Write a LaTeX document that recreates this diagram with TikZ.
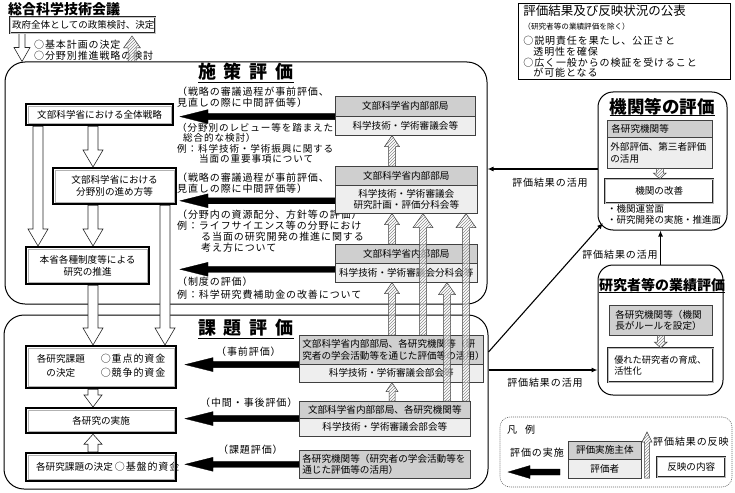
\documentclass[tikz,border=0pt]{standalone}
\usepackage{fontspec}
\newfontfamily\jp{Noto Sans CJK JP}
\newfontfamily\jpw{Noto Sans CJK JP}[LetterSpace=9]
\usetikzlibrary{calc,patterns,arrows.meta}
\pgfdeclarelayer{bg}
\pgfsetlayers{bg,main}
% block arrow: [style]{from}{to}{shaft half width}{head half width}{head length}
\newcommand{\barrow}[6][]{%
  \draw[#1] let \p1=(#2), \p2=(#3), \p3=($(#3)!#6pt!(#2)$) in
    ($(\p1)!#4pt!90:(\p2)$) -- ($(\p3)!#4pt!90:(\p2)$) -- ($(\p3)!#5pt!90:(\p2)$)
    -- (\p2) -- ($(\p3)!#5pt!-90:(\p2)$) -- ($(\p3)!#4pt!-90:(\p2)$)
    -- ($(\p1)!#4pt!-90:(\p2)$) -- cycle;}
\newcommand{\innerframe}[1]{\draw[gray!60,line width=0.6pt] ([shift={(3.3pt,-3.3pt)}]#1.north west) rectangle ([shift={(-3.3pt,3.3pt)}]#1.south east);}
\newsavebox{\ulsave}
\newcommand{\ulbox}[2]{\sbox{\ulsave}{#2}\rlap{\rule[#1]{\wd\ulsave}{1.1pt}}\usebox{\ulsave}}
\begin{document}
\begin{tikzpicture}[x=1pt,y=-1pt,
  jb/.style={inner sep=0pt, anchor=north west, align=center, font=\jp\fontsize{9.6}{11.5}\selectfont},
  dk/.style={jb, draw=black!75, fill=gray!38, line width=0.6pt},
  lite/.style={jb, draw=black!75, fill=gray!13, line width=0.6pt},
  strat/.style={jb, draw=black, line width=2.2pt, fill=white},
  dbl/.style={jb, draw=black!85, line width=0.5pt, double=gray!55, double distance=1.1pt, fill=white},
  govb/.style={jb, draw=black!85, line width=0.5pt, double=gray!45, double distance=0.8pt, fill=white},
  panel/.style={draw=black, line width=1pt, rounded corners=20pt, inner sep=0pt},
  spanel/.style={draw=black, line width=1pt, rounded corners=15pt, inner sep=0pt},
  ann/.style={anchor=north west, inner sep=0pt, align=left, font=\jpw\fontsize{10}{10.5}\selectfont},
  lbl/.style={inner sep=0pt, font=\jpw\fontsize{10}{12}\selectfont},
  ttl/.style={inner sep=0pt, font=\jp\bfseries\fontsize{18}{20}\selectfont},
  thinarr/.style={-{Latex[length=6pt,width=5pt]}, line width=1.1pt},
  blk/.style={fill=black, draw=black, line width=0.3pt},
  hol/.style={fill=white, draw=black!85, line width=0.6pt},
  hat/.style={draw=black!75, line width=0.5pt, preaction={fill=white, fill opacity=0.6}, pattern=north east lines, pattern color=gray!90}
]
\useasboundingbox (0,0) rectangle (735,492);
\begin{pgfonlayer}{bg}
\fill[white] (0,0) rectangle (735,492);
\node[panel, minimum width=482pt, minimum height=242pt] (P1) at (246,183) {};
\node[panel, minimum width=484pt, minimum height=174pt] (P2) at (246,402) {};
\node[spanel, minimum width=129pt, minimum height=138pt] (K) at (662.5,161) {};
\node[spanel, minimum width=125pt, minimum height=130pt] (R) at (660.5,330) {};
\node[draw=black!60, line width=0.6pt, dash pattern=on 1pt off 1pt, rounded corners=10pt, inner sep=0pt, minimum width=232pt, minimum height=70pt] (L) at (616,452) {};
\end{pgfonlayer}

% coordinates
\coordinate (g0) at (22,0);
\coordinate (g1) at (132,36);
\coordinate (hx1) at (38,0);
\coordinate (hx2) at (93,0);
\coordinate (hx3) at (165,0);
\coordinate (tipx) at (180,0);
\coordinate (tipk) at (185,0);
\coordinate (hxA) at (392,0);
\coordinate (hxB) at (423,0);
\coordinate (hxC) at (447,0);
\coordinate (hxD) at (466,0);
\coordinate (ya) at (0,169);
\coordinate (yb) at (0,352);
\coordinate (yc) at (0,370);
\coordinate (kc) at (603,223);
\coordinate (lgA) at (560,472);
\coordinate (lgB) at (508,472);
\coordinate (lgC) at (647,478);
\coordinate (lgD) at (647,432);

% top
\node[jb, font=\jp\bfseries\fontsize{14}{16}\selectfont, anchor=west] (council) at (8,9) {総合科学技術会議};
\node[govb, align=left, text width=141pt, inner xsep=2pt, minimum height=16pt, font=\jp\fontsize{9.5}{11}\selectfont] (gov) at (10,17) {政府全体としての政策検討、決定};
\node[ann] (govtxt) at (34,40) {○基本計画の決定\\○分野別推進戦略の検討};

\node[draw=black, line width=0.8pt, anchor=north west, inner xsep=5pt, inner ysep=2pt, text width=202pt, align=left, font=\jpw\fontsize{10}{10.5}\selectfont] (pub) at (518,3) {{\jp\fontsize{12.5}{10.5}\selectfont 評価結果及び反映状況の公表}\\[3.5pt]{\jp\fontsize{7.6}{10.5}\selectfont （研究者等の業績評価を除く）}\\[4.5pt]○説明責任を果たし、公正さと\\\hspace*{10pt}透明性を確保\\[0.5pt]○広く一般からの検証を受けること\\\hspace*{10pt}が可能となる};

% titles
\node[ttl] (t1) at (246,73) {\ulbox{-4pt}{施\hspace{8pt}策\hspace{8pt}評\hspace{8pt}価}};
\node[ttl] (t2) at (246,329) {\ulbox{-4pt}{課\hspace{8pt}題\hspace{8pt}評\hspace{8pt}価}};
\node[ttl, font=\jp\bfseries\fontsize{17.5}{20}\selectfont] (t3) at (662,107) {\ulbox{-3pt}{機関等の評価}};
\node[ttl, font=\jp\bfseries\fontsize{14}{16}\selectfont, anchor=west] (t4) at (599,286) {\ulbox{-2.5pt}{研究者等の業績評価}};

% annotations
\node[ann] (a1) at (177,87) {（戦略の審議過程が事前評価、\\見直しの際に中間評価等）};
\node[ann, font=\jpw\fontsize{9.6}{10.3}\selectfont] (a2) at (177,123) {（分野別のレビュー等を踏まえた\\\hspace*{6pt}総合的な検討）\\例：科学技術・学術振興に関する\\\hspace*{22pt}当面の重要事項について};
\node[ann] (a3) at (177,173) {（戦略の審議過程が事前評価、\\見直しの際に中間評価等）};
\node[ann, font=\jpw\fontsize{10}{11}\selectfont] (a4) at (177,210) {（分野内の資源配分、方針等の評価）\\例：ライフサイエンス等の分野におけ\\\hspace*{24pt}る当面の研究開発の推進に関する\\\hspace*{24pt}考え方について};
\node[ann, font=\jpw\fontsize{10}{12.5}\selectfont] (a5) at (177,277) {（制度の評価）\\例：科学研究費補助金の改善について};

\node[lbl, anchor=west] (e1) at (216,352) {（事前評価）};
\node[lbl, anchor=west] (e2) at (200,403) {（中間・事後評価）};
\node[lbl, anchor=west] (e3) at (218,450) {（課題評価）};

\node[lbl] (u1) at (550,183) {評価結果の活用};
\node[lbl] (u2) at (620,255) {評価結果の活用};
\node[lbl] (u3) at (545,383) {評価結果の活用};

\node[lbl, anchor=west] (lg1) at (507,430) {凡\hspace{8pt}例};
\node[lbl, anchor=west] (lg2) at (510,453) {評価の実施};
\node[lbl, anchor=west] (lg3) at (653,442) {評価結果の反映};

% strategy boxes
\node[strat, minimum width=147pt, minimum height=21pt] (s1) at (25,103) {文部科学省における全体戦略};
\node[strat, minimum width=123pt, minimum height=36pt] (s2) at (52,167) {文部科学省における\\分野別の進め方等};
\node[strat, minimum width=123pt, minimum height=37pt] (s3) at (25,246) {本省各種制度等による\\研究の推進};

% evaluator boxes (policy)
\node[dk, minimum width=140pt, minimum height=20pt] (At) at (335,96) {文部科学省内部部局};
\node[lite, minimum width=140pt, minimum height=19pt] (Ab) at (335,116) {科学技術・学術審議会等};
\node[dk, minimum width=142pt, minimum height=19pt] (Bt) at (335,166) {文部科学省内部部局};
\node[lite, minimum width=142pt, minimum height=28pt] (Bb) at (335,185) {科学技術・学術審議会\\研究計画・評価分科会等};
\node[dk, minimum width=142pt, minimum height=19pt] (Ct) at (335,244) {文部科学省内部部局};
\node[lite, minimum width=142pt, minimum height=19pt] (Cb) at (335,263) {科学技術・学術審議会分科会等};
\coordinate (b3s) at ($(Cb.west)+(0,3.5pt)$);
\coordinate (b2s) at ($(Bb.west)+(0,-1.5pt)$);

% project boxes
\node[strat, minimum width=150pt, minimum height=42pt] (k1) at (25,345) {\begin{tabular}{@{}c@{\hspace{16pt}}l@{}}各研究課題 & {\jpw\fontsize{10}{12}\selectfont ○重点的資金}\\[1.5pt]の決定 & {\jpw\fontsize{10}{12}\selectfont ○競争的資金}\end{tabular}};
\node[strat, minimum width=150pt, minimum height=25pt] (k2) at (25,407) {各研究の実施};
\node[strat, minimum width=150pt, minimum height=28pt, inner xsep=10pt] (k3) at (25,452) {\makebox[130pt][l]{各研究課題の決定\hspace{2pt}{\jpw\fontsize{10}{12}\selectfont ○基盤的資金}}};

\node[dk, text width=178pt, inner xsep=3pt, minimum height=29pt, align=left] (Dt) at (299,335) {文部科学省内部部局、各研究機関等（研\\究者の学会活動等を通じた評価等の活用）};
\node[lite, minimum width=184pt, minimum height=18pt] (Db) at (299,364) {科学技術・学術審議会部会等};
\node[dk, minimum width=171pt, minimum height=17pt] (Et) at (299,401) {文部科学省内部部局、各研究機関等};
\node[lite, minimum width=171pt, minimum height=18pt] (Eb) at (299,418) {科学技術・学術審議会部会等};
\node[dk, text width=165pt, inner xsep=3pt, minimum height=28pt, align=left] (F) at (299,450) {各研究機関等（研究者の学会活動等を\\通じた評価等の活用）};

% institution panel
\node[dk, text width=97pt, inner xsep=4pt, minimum height=17pt, align=left] (Kt) at (607,120) {各研究機関等};
\node[lite, text width=99pt, inner xsep=3pt, minimum height=31pt, align=left] (Kb) at (607,137) {外部評価、第三者評価\\の活用};
\node[dbl, minimum width=108pt, minimum height=24pt] (Ki) at (605,179) {機関の改善};
\node[ann, font=\jp\fontsize{9.5}{11}\selectfont] (Ktx) at (607,204) {・機関運営面\\・研究開発の実施・推進面};

% researcher panel
\node[dk, text width=91pt, inner xsep=6pt, minimum height=30pt, align=left] (Rt) at (609,305) {各研究機関等（機関\\長がルールを設定）};
\node[dbl, text width=93pt, inner xsep=6pt, minimum height=34pt, align=left, font=\jp\fontsize{9.2}{11.5}\selectfont] (Ri) at (608,348) {優れた研究者の育成、\\活性化};

% legend boxes
\node[dk, minimum width=73pt, minimum height=18pt] (Lt) at (568,441) {評価実施主体};
\node[lite, minimum width=73pt, minimum height=19pt] (Lb) at (568,459) {評価者};
\node[dbl, minimum width=68pt, minimum height=20pt] (Lr) at (657,457) {反映の内容};

\innerframe{s1}\innerframe{s2}\innerframe{s3}
\innerframe{k1}\innerframe{k2}\innerframe{k3}

% arrows beneath boxes
\begin{pgfonlayer}{bg}
\barrow[hol]{gov.south -| g0}{P1.north -| g0}{3}{8}{14}
\barrow[hol]{s1.south -| hx1}{s3.north -| hx1}{5}{10}{17}
\barrow[hol]{s1.south -| hx2}{s2.north -| hx2}{5}{10}{17}
\barrow[hol]{s2.south -| hx2}{s3.north -| hx2}{5}{10}{17}
\barrow[hol]{s3.south -| hx2}{k1.north -| hx2}{5}{10}{17}
\barrow[hol]{s2.south -| hx3}{k1.north -| hx3}{5}{10}{17}
\barrow[hol]{k1.south -| hx2}{k2.north -| hx2}{5}{9}{12}
\barrow[hol]{k3.north -| hx2}{k2.south -| hx2}{5}{9}{10}
\barrow[blk]{At.south west}{tipx |- At.south west}{3}{7}{28}
\barrow[blk]{b2s}{tipx |- b2s}{3}{7}{28}
\barrow[blk]{b3s}{tipx |- b3s}{3}{7}{28}
\barrow[blk]{Dt.south west}{tipk |- Dt.south west}{3}{7}{28}
\barrow[blk]{Et.south west}{tipk |- Et.south west}{3}{7}{28}
\barrow[blk]{F.west}{tipk |- F.west}{3}{7}{28}
\barrow[blk]{lgA}{lgB}{3}{6.5}{22}
\end{pgfonlayer}

% hatched arrows (reflection)
\barrow[hat]{P1.north -| g1}{g1}{4}{8.5}{12}
\barrow[hat]{Bt.north -| hxA}{Ab.south -| hxA}{3.5}{7.5}{11}
\barrow[hat]{Ct.north -| hxA}{Bb.south -| hxA}{3.5}{7.5}{11}
\barrow[hat]{Dt.north -| hxA}{Cb.south -| hxA}{3.5}{7.5}{11}
\barrow[hat]{Dt.north -| hxB}{Bb.south -| hxB}{3.5}{10}{14}
\barrow[hat]{Et.north -| hxC}{Cb.south -| hxC}{3.5}{8.5}{12}
\barrow[hat]{Et.north -| hxD}{Bb.south -| hxD}{3.5}{10}{14}
\barrow[hat]{Et.north -| hxA}{Db.south -| hxA}{3}{6}{9}
\barrow[hat]{Kb.south}{Kb.south |- Ki.north}{3.5}{6.5}{6}
\barrow[hat]{Rt.south}{Rt.south |- Ri.north}{3.5}{6.5}{6}
\barrow[hat]{lgC}{lgD}{2.5}{5}{10}

% thin connectors
\draw[thinarr] (K.west |- ya) -- (P1.east |- ya);
\draw[thinarr] (P2.east |- yb) -- (kc);
\draw[thinarr] (R.north) -- (R.north |- K.south);
\draw[thinarr] (P2.east |- yc) -- (R.west |- yc);
\end{tikzpicture}
\end{document}
